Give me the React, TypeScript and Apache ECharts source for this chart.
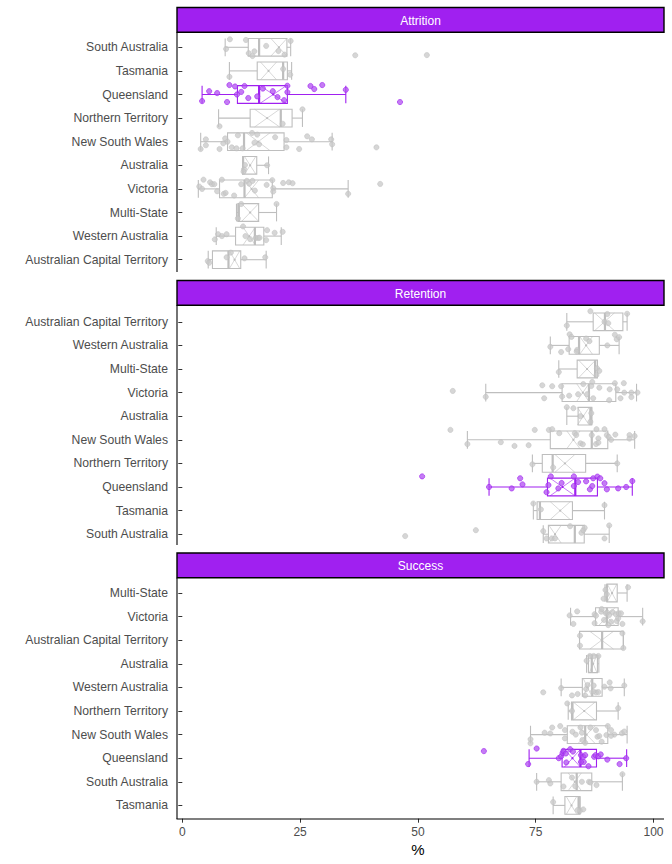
import React, { useEffect, useRef } from "react";
import * as echarts from "echarts";

// ---------- data ----------
const attritionCats = ["South Australia", "Tasmania", "Queensland", "Northern Territory", "New South Wales", "Australia", "Victoria", "Multi-State", "Western Australia", "Australian Capital Territory"];
// [whiskerLow, q1, median, q3, whiskerHigh, crossCentre, crossHalfWidth]
const attritionBoxes = [
  [9.1, 14.0, 16.3, 22.2, 23.0, 20.5, 1.7],
  [10.0, 15.9, 21.4, 22.3, 23.2, 18.3, 1.7],
  [4.2, 11.7, 16.3, 22.3, 34.7, 19.3, 2.8],
  [7.7, 14.4, 20.9, 23.3, 25.5, 18.0, 2.65],
  [3.9, 9.6, 13.1, 21.6, 31.8, 16.1, 2.5],
  [12.8, 12.8, 12.9, 15.8, 18.3, 14.4, 1.2],
  [3.4, 7.9, 13.2, 19.1, 35.2, 14.7, 1.5],
  [11.5, 11.8, 12.0, 16.2, 20.0, 14.4, 1.8],
  [7.2, 11.3, 15.4, 17.3, 21.0, 14.2, 1.3],
  [5.5, 6.4, 9.8, 12.4, 17.8, 11.1, 1.1],
];
// [value, vertical jitter as fraction of band]
const attritionPoints = [
  [[9.3, 0.07], [10.1, -0.34], [13.5, -0.31], [14.1, 0.25], [14.9, 0.37], [15.3, 0.17], [17.8, -0.06], [20.4, 0.16], [21.7, 0.31], [23.0, -0.27], [36.7, 0.34], [51.9, 0.33]],
  [[10.0, 0.25], [21.4, -0.08], [22.9, 0.16]],
  [[4.2, 0.28], [5.7, -0.14], [7.4, -0.06], [9.5, 0.32], [10.0, -0.4], [11.2, -0.34], [11.6, 0], [12.5, -0.11], [13.2, -0.36], [14.0, 0.15], [15.9, 0.08], [17.1, -0.25], [19.2, -0.14], [20.2, 0.11], [21.6, 0.24], [22.3, -0.37], [22.3, -0.1], [27.2, -0.36], [28.0, -0.23], [29.7, -0.4], [34.7, -0.2], [46.2, 0.32]],
  [[7.9, 0.35], [21.3, 0.24], [25.5, -0.37]],
  [[3.9, 0.31], [5.0, -0.1], [5.0, 0.15], [7.9, 0.31], [8.7, 0.07], [9.1, -0.14], [9.6, 0], [10.5, 0.24], [11.5, 0.28], [11.8, -0.27], [12.8, 0.28], [14.8, -0.37], [15.3, 0.04], [15.9, -0.3], [16.3, 0.11], [19.7, -0.19], [22.1, -0.07], [22.1, 0.24], [24.8, 0.31], [26.5, -0.23], [27.5, -0.1], [31.6, -0.1], [31.8, 0.11], [41.2, 0.24]],
  [[13.1, 0.17], [18.0, 0], [13.3, -0.01], [13.0, 0.27]],
  [[4.5, -0.39], [3.6, -0.1], [4.2, 0], [5.9, -0.28], [6.3, -0.2], [6.8, -0.2], [8.4, -0.39], [7.4, 0.1], [8.8, 0.21], [9.2, 0.17], [11.0, 0.28], [12.5, -0.2], [13.7, -0.34], [14.2, -0.22], [14.9, -0.34], [15.4, 0.07], [17.9, -0.17], [19.1, -0.37], [19.3, -0.03], [19.3, 0.11], [21.4, -0.25], [22.6, -0.28], [23.4, -0.24], [35.2, 0.21], [42.0, -0.21]],
  [[11.8, 0.25], [12.5, -0.36], [20.0, -0.36]],
  [[6.9, 0.14], [7.6, -0.08], [8.4, 0], [9.4, -0.08], [12.9, -0.41], [13.4, 0], [14.4, 0.13], [15.6, 0.08], [16.1, 0.08], [16.4, 0.07], [17.8, 0.17], [18.0, -0.25], [19.6, -0.14], [21.3, -0.18]],
  [[5.4, 0.06], [5.7, 0.13], [9.4, -0.1], [10.3, -0.3], [13.2, -0.06], [17.6, -0.1]],
];

const retentionCats = ["Australian Capital Territory", "Western Australia", "Multi-State", "Victoria", "Australia", "New South Wales", "Northern Territory", "Queensland", "Tasmania", "South Australia"];
const retentionBoxes = [
  [81.6, 87.2, 89.7, 93.5, 94.4, 89.6, 2.1],
  [78.1, 82.1, 84.2, 88.5, 92.7, 85.7, 1.35],
  [79.9, 83.8, 87.6, 88.1, 88.1, 85.9, 1.8],
  [64.4, 80.6, 86.3, 92.0, 96.4, 85.0, 1.3],
  [81.6, 84.0, 86.6, 86.9, 86.9, 85.1, 1.25],
  [60.5, 78.1, 86.9, 90.3, 96.0, 83.0, 1.4],
  [74.3, 76.4, 78.6, 85.6, 92.3, 81.2, 2.1],
  [65.1, 77.5, 83.4, 88.1, 95.5, 80.7, 2.65],
  [74.5, 75.3, 75.9, 82.8, 89.6, 80.2, 2.1],
  [76.6, 77.7, 83.3, 85.3, 90.6, 79.1, 1.3],
];
const retentionPoints = [
  [[81.6, 0.16], [86.6, -0.45], [89.6, 0], [90.2, -0.33], [94.4, -0.34], [90.4, 0.06]],
  [[78.1, 0.06], [80.4, 0.28], [81.9, 0.16], [82.2, -0.47], [82.6, -0.36], [83.8, 0.19], [83.7, 0.26], [85.7, -0.29], [86.4, -0.18], [90.2, 0], [91.8, -0.45], [92.2, -0.26], [92.7, -0.35]],
  [[79.9, 0.13], [88.0, -0.03], [88.5, 0.08], [87.9, 0.25]],
  [[57.4, -0.07], [64.4, 0.18], [76.4, -0.31], [78.5, -0.27], [80.4, -0.27], [76.8, 0.24], [80.6, 0.17], [82.1, 0.13], [84.0, 0.07], [85.1, -0.36], [85.9, 0.07], [87.0, -0.45], [86.8, -0.28], [87.2, 0.24], [88.5, -0.21], [90.7, -0.14], [90.6, 0.32], [91.8, -0.4], [92.3, -0.14], [93.0, 0.24], [93.7, -0.4], [93.8, 0], [95.3, 0], [95.3, 0.19], [96.6, 0]],
  [[81.6, -0.38], [83.0, -0.34], [86.8, -0.13], [86.6, 0.24], [84.5, 0]],
  [[56.9, -0.42], [60.5, 0.18], [67.6, 0.1], [70.5, 0.26], [73.5, 0.23], [74.8, -0.42], [77.8, -0.42], [78.5, -0.45], [80.0, -0.28], [83.3, -0.28], [83.6, -0.2], [84.5, 0.15], [85.0, 0.19], [86.9, -0.2], [87.8, 0.18], [87.9, -0.45], [88.3, -0.06], [88.3, 0.12], [89.6, -0.45], [90.1, -0.2], [90.5, -0.12], [91.0, 0], [91.9, -0.22], [94.9, -0.2], [94.9, -0.05], [96.0, -0.16]],
  [[74.3, 0.04], [78.7, 0.17], [92.3, 0]],
  [[50.9, -0.45], [65.1, 0], [69.9, 0.06], [71.7, -0.37], [72.2, -0.11], [77.3, 0.22], [77.7, -0.08], [78.2, -0.45], [79.8, 0.06], [80.5, -0.17], [83.1, -0.45], [83.1, -0.04], [84.0, -0.21], [85.7, -0.24], [86.5, 0.1], [87.0, -0.04], [87.2, -0.37], [88.1, -0.44], [88.7, -0.37], [89.6, -0.16], [90.1, 0.1], [92.5, 0.06], [94.2, 0], [95.5, -0.25]],
  [[74.5, -0.3], [76.1, -0.05], [89.6, -0.23]],
  [[47.3, 0.08], [62.3, -0.17], [76.6, -0.13], [77.3, 0.18], [78.4, 0.18], [79.1, 0.18], [82.3, -0.34], [84.7, -0.06], [85.1, -0.17], [85.4, -0.27], [89.6, 0.18], [90.6, -0.37]],
];

const successCats = ["Multi-State", "Victoria", "Australian Capital Territory", "Australia", "Western Australia", "Northern Territory", "New South Wales", "Queensland", "South Australia", "Tasmania"];
const successBoxes = [
  [89.7, 90.1, 90.1, 92.3, 94.4, 91.2, 1.0],
  [82.4, 87.7, 90.1, 92.5, 97.7, 90.1, 1.7],
  [84.3, 84.3, 89.1, 93.6, 93.6, 89.0, 2.5],
  [85.8, 86.2, 86.9, 88.1, 88.4, 87.2, 0.8],
  [80.4, 84.9, 87.0, 89.1, 93.8, 86.0, 0.9],
  [81.9, 82.6, 82.8, 87.9, 92.5, 85.3, 2.3],
  [73.9, 81.7, 85.5, 90.3, 94.4, 85.8, 1.8],
  [73.6, 80.6, 84.5, 87.9, 94.3, 82.8, 1.7],
  [75.2, 80.4, 83.7, 86.9, 93.4, 83.3, 1.4],
  [78.7, 81.2, 84.1, 84.4, 84.4, 82.6, 1.1],
];
const successPoints = [
  [[89.8, -0.13], [94.6, -0.24], [89.4, 0.24], [90.1, 0.05]],
  [[82.2, -0.05], [83.8, -0.22], [83.0, 0.31], [87.5, -0.1], [87.8, -0.04], [87.5, 0.28], [88.9, -0.21], [89.0, -0.32], [89.5, 0.14], [89.9, -0.14], [90.2, -0.17], [90.6, -0.07], [91.0, 0.22], [91.3, -0.19], [92.0, -0.1], [92.2, 0.19], [92.5, 0.07], [92.6, -0.14], [93.1, -0.14], [93.4, 0.31], [97.7, 0.2], [90.4, 0.36]],
  [[84.4, -0.19], [84.4, 0.23], [93.4, -0.29], [93.6, 0.33]],
  [[85.8, -0.13], [88.3, -0.33], [87.3, -0.33], [86.5, -0.33]],
  [[76.6, 0.21], [80.4, 0.03], [82.7, 0.34], [83.9, 0.28], [85.5, 0.34], [85.7, 0.07], [86.0, -0.1], [87.3, -0.08], [87.8, 0.21], [88.3, 0.2], [89.6, -0.03], [90.7, -0.21], [90.9, 0.04], [93.8, -0.08], [87.2, 0.17]],
  [[81.7, -0.32], [82.7, 0], [92.5, -0.12]],
  [[73.9, 0.2], [73.9, 0.37], [76.9, -0.08], [78.1, -0.05], [78.5, -0.3], [80.2, -0.36], [81.2, -0.19], [81.2, 0.16], [82.8, -0.12], [83.5, 0], [84.5, -0.3], [84.8, -0.08], [84.9, 0.23], [85.5, 0.35], [86.6, -0.3], [87.8, -0.19], [88.1, 0.09], [88.5, 0.06], [89.0, 0.3], [90.3, -0.36], [90.0, 0.02], [91.0, -0.19], [91.7, 0], [93.3, -0.06], [93.8, -0.13], [91.0, 0.05]],
  [[64.0, -0.3], [73.4, 0.25], [75.2, -0.41], [79.9, 0], [80.4, -0.08], [80.7, -0.22], [80.9, -0.31], [81.4, -0.2], [81.5, 0.18], [82.3, -0.38], [82.9, -0.28], [84.6, -0.13], [85.1, -0.06], [85.2, 0.16], [85.5, -0.13], [86.2, 0.34], [87.4, -0.06], [87.7, -0.13], [88.3, -0.08], [88.8, -0.16], [90.2, 0.06], [92.8, 0.25], [94.2, 0], [84.6, 0.16]],
  [[75.2, 0], [77.8, -0.07], [78.1, 0.07], [80.9, 0.2], [82.7, -0.18], [83.4, 0.19], [84.8, 0], [86.3, 0], [86.6, 0.03], [87.9, 0.14], [93.4, -0.32]],
  [[78.7, -0.14], [84.4, 0.23], [85.1, 0.17], [83.9, 0.2]],
];

const panelTitles = ["Attrition", "Retention", "Success"];
const xTicks = [0, 25, 50, 75, 100];
const xTitle = "%";
const highlightState = "Queensland";

// ---------- style / layout ----------
const PURPLE = "#A020F0";
const GRAY = "#BEBEBE";
const FONT = "'Liberation Sans', Arial, sans-serif";
const AXIS_X = 177;
const RIGHT_X = 664;
const PLOT_LEFT = 182.3;
const PLOT_RIGHT = 653.5;
const STRIP_TOP = [7.5, 280.5, 553];
const STRIP_H = 24.7;
const GRID_TOP = [35.5, 310, 581.2];
const GRID_H = 236;
const PANEL_BOTTOM = [272, 545, 819];

function renderBox(params: any, api: any) {
  const idx = api.value(0);
  const wLo = api.value(1), q1 = api.value(2), med = api.value(3), q3 = api.value(4), wHi = api.value(5);
  const xc = api.value(6), xh = api.value(7), hl = api.value(8);
  const band = api.size([0, 1])[1];
  const hh = band * 0.375;
  const pLo = api.coord([wLo, idx]);
  const pQ1 = api.coord([q1, idx]);
  const pMed = api.coord([med, idx]);
  const pQ3 = api.coord([q3, idx]);
  const pHi = api.coord([wHi, idx]);
  const pXa = api.coord([xc - xh, idx]);
  const pXb = api.coord([xc + xh, idx]);
  const pXc = api.coord([xc, idx]);
  const cy = pQ1[1];
  const col = hl ? PURPLE : GRAY;
  const ls = { stroke: col, lineWidth: 1.1, fill: null };
  const thin = { stroke: col, lineWidth: 0.6, fill: null };
  const children: any[] = [
    { type: "line", shape: { x1: pLo[0], y1: cy, x2: pQ1[0], y2: cy }, style: ls },
    { type: "line", shape: { x1: pQ3[0], y1: cy, x2: pHi[0], y2: cy }, style: ls },
    { type: "line", shape: { x1: pLo[0], y1: cy - hh, x2: pLo[0], y2: cy + hh }, style: ls },
    { type: "line", shape: { x1: pHi[0], y1: cy - hh, x2: pHi[0], y2: cy + hh }, style: ls },
    { type: "rect", shape: { x: pQ1[0], y: cy - hh, width: pQ3[0] - pQ1[0], height: hh * 2 }, style: { stroke: col, lineWidth: 1.1, fill: "rgba(255,255,255,0)" } },
    { type: "line", shape: { x1: pMed[0], y1: cy - hh, x2: pMed[0], y2: cy + hh }, style: { stroke: col, lineWidth: 2.2 } },
    { type: "line", shape: { x1: pXa[0], y1: cy - hh, x2: pXb[0], y2: cy + hh }, style: thin },
    { type: "line", shape: { x1: pXa[0], y1: cy + hh, x2: pXb[0], y2: cy - hh }, style: thin },
    { type: "circle", shape: { cx: pXc[0], cy: cy, r: 1.1 }, style: { fill: col } },
  ];
  return { type: "group", children };
}

function renderPoint(params: any, api: any) {
  const p = api.coord([api.value(0), api.value(1)]);
  const band = api.size([0, 1])[1];
  const hl = api.value(3);
  return {
    type: "circle",
    shape: { cx: p[0], cy: p[1] + api.value(2) * band, r: 2.6 },
    style: hl
      ? { fill: "rgba(176,80,240,0.75)", stroke: "rgba(160,32,240,0.9)", lineWidth: 0.7 }
      : { fill: "rgba(200,200,200,0.75)", stroke: "rgba(190,190,190,0.85)", lineWidth: 0.6 },
  };
}

export default function App() {
  const ref = useRef<HTMLDivElement>(null);
  useEffect(() => {
    if (!ref.current) return;
    const chart = echarts.init(ref.current, null, { renderer: "svg" });
    const panels = [
      { cats: attritionCats, boxes: attritionBoxes, points: attritionPoints },
      { cats: retentionCats, boxes: retentionBoxes, points: retentionPoints },
      { cats: successCats, boxes: successBoxes, points: successPoints },
    ];
    const grids: any[] = [];
    const xAxes: any[] = [];
    const yAxes: any[] = [];
    const series: any[] = [];
    const graphics: any[] = [];
    panels.forEach((p, i) => {
      grids.push({ left: PLOT_LEFT, width: PLOT_RIGHT - PLOT_LEFT, top: GRID_TOP[i], height: GRID_H });
      const last = i === panels.length - 1;
      xAxes.push({
        type: "value", gridIndex: i, min: xTicks[0], max: xTicks[xTicks.length - 1], interval: 25,
        show: last,
        offset: 1.5,
        axisLine: { show: false },
        axisTick: { show: true, length: 4, lineStyle: { color: "#333333", width: 1 } },
        axisLabel: { color: "#4D4D4D", fontSize: 12, fontFamily: FONT, margin: 7 },
        splitLine: { show: false },
        name: last ? xTitle : "",
        nameLocation: "middle",
        nameGap: 23,
        nameTextStyle: { color: "#000", fontSize: 15, fontFamily: FONT },
      });
      yAxes.push({
        type: "category", gridIndex: i, data: p.cats, inverse: true,
        offset: PLOT_LEFT - AXIS_X,
        axisLine: { show: false },
        axisTick: { show: true, alignWithLabel: true, length: 4, lineStyle: { color: "#333333", width: 1 } },
        axisLabel: { color: "#4D4D4D", fontSize: 12.2, fontFamily: FONT, margin: 9, interval: 0 },
        splitLine: { show: false },
      });
      const boxData = p.boxes.map((b, k) => [k, ...b, p.cats[k] === highlightState ? 1 : 0]);
      const ptData: any[] = [];
      p.points.forEach((arr, k) => {
        arr.forEach((pt) => ptData.push([pt[0], k, pt[1], p.cats[k] === highlightState ? 1 : 0]));
      });
      series.push({
        type: "custom", xAxisIndex: i, yAxisIndex: i, renderItem: renderBox,
        encode: { x: [1, 2, 3, 4, 5, 6], y: 0 }, data: boxData, z: 2,
      });
      series.push({
        type: "custom", xAxisIndex: i, yAxisIndex: i, renderItem: renderPoint,
        encode: { x: 0, y: 1 }, data: ptData, z: 3,
      });
      graphics.push({
        type: "rect", shape: { x: AXIS_X, y: STRIP_TOP[i], width: RIGHT_X - AXIS_X, height: STRIP_H },
        style: { fill: PURPLE, stroke: "#000", lineWidth: 1.4 }, z: 10,
      });
      graphics.push({
        type: "text", x: (AXIS_X + RIGHT_X) / 2, y: STRIP_TOP[i] + STRIP_H / 2 + 0.7,
        style: { text: panelTitles[i], fill: "#fff", fontSize: 12, fontFamily: FONT, align: "center", verticalAlign: "middle" }, z: 11,
      });
      graphics.push({
        type: "line", shape: { x1: AXIS_X, y1: STRIP_TOP[i] + STRIP_H, x2: AXIS_X, y2: PANEL_BOTTOM[i] },
        style: { stroke: "#000", lineWidth: 1.1 }, z: 10,
      });
    });
    graphics.push({
      type: "line", shape: { x1: AXIS_X - 0.5, y1: PANEL_BOTTOM[2], x2: RIGHT_X, y2: PANEL_BOTTOM[2] },
      style: { stroke: "#000", lineWidth: 1.1 }, z: 10,
    });
    chart.setOption({
      animation: false,
      backgroundColor: "#fff",
      grid: grids,
      xAxis: xAxes,
      yAxis: yAxes,
      series,
      graphic: graphics,
    });
    return () => chart.dispose();
  }, []);
  return <div ref={ref} style={{ position: "fixed", left: 0, top: 0, width: 672, height: 864 }} />;
}
